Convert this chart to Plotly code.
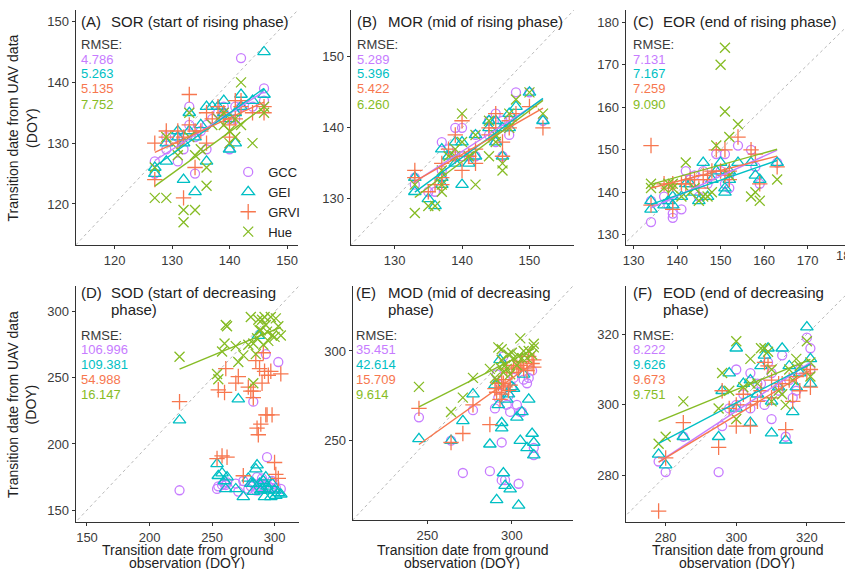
import numpy as np
import plotly.graph_objects as go

W, H = 845, 569

series = ["GCC", "GEI", "GRVI", "Hue"]
colors = {"GCC": "#C77CFF", "GEI": "#00BFC4", "GRVI": "#F7774F", "Hue": "#86BC25"}
symbols = {"GCC": "circle-open", "GEI": "triangle-up-open",
           "GRVI": "cross-thin-open", "Hue": "x-thin-open"}
msize = {"GCC": 9, "GEI": 11, "GRVI": 11, "Hue": 10}

# ---------------- data (DOY) ----------------
# (A) SOR
A_x = [127,127,129,129,131,131,132,132,133,133,134,134,135,136,136,137,138,139,139,140,140,141,141,142,142,144,146,146]
A_GCC = [125,127,129,131,127,131,131,129,136,133,125,131,132,129,133,134,135,135,136,129,134,134,136,144,136,136,139,137]
A_GEI = [125,126,127,130,131,132,124,130,135,132,122,131,133,127,136,136,136,137,135,129,134,130,135,138,136,137,145,138]
A_GRVI = [124,130,132,131,132,130,121,131,138,133,126,132,132,130,135,134,136,135,134,131,133,134,137,137,136,135,136,135]
A_Hue = [121,126,121,131,128,129,119,117,135,131,119,128,129,123,126,133,134,133,135,132,130,134,131,140,133,130,135,136]
A_rmse = ["4.786", "5.263", "5.135", "7.752"]

# (B) MOR
B_x = [133,133,135,136,137,137,137,138,139,139,140,140,141,142,142,144,144,145,145,146,146,147,147,148,150,152]
B_GCC = [132,133,131,131,138,134,133,137,140,136,140,136,136,139,136,141,139,142,138,136,141,139,141,145,145,141]
B_GEI = [131,133,130,129,137,133,132,136,138,135,132,138,135,139,136,141,140,141,138,136,140,142,140,143,145,141]
B_GRVI = [134,133,131,132,135,133,132,137,139,136,134,141,136,135,137,140,139,142,140,138,136,141,140,142,143,140]
B_Hue = [128,132,129,129,134,132,131,136,137,136,142,138,136,132,139,136,141,138,139,134,135,140,142,144,145,142]
B_rmse = ["5.289", "5.396", "5.422", "6.260"]

# (C) EOR
C_x = [134,134,137,138,139,139,141,142,143,144,145,146,147,148,149,150,151,151,152,152,154,157,158,159,163]
C_GCC = [133,138,139,137,134,135,136,145,143,144,139,145,142,144,149,145,142,149,141,144,151,150,146,142,147]
C_GEI = [138,136,137,138,137,139,139,142,142,140,138,147,139,143,145,147,141,140,143,145,147,147,144,143,147]
C_GRVI = [151,137,142,141,136,142,142,142,143,143,141,144,143,145,150,145,150,144,143,145,153,150,149,142,146]
C_Hue = [141,142,141,142,142,141,139,147,140,141,138,139,139,140,151,170,174,159,153,144,156,139,140,138,143]
C_rmse = ["7.131", "7.167", "7.259", "9.090"]

# (D) SOD
D_x = [224,254,255,258,260,261,262,269,271,275,279,281,283,283,285,286,287,288,289,290,291,292,293,294,295,297,298,300,301,303,305]
D_GCC = [165,166,168,169,170,169,171,170,164,172,166,168,232,170,165,175,165,170,168,174,170,169,268,190,168,167,172,170,167,262,166]
D_GEI = [218,185,176,178,172,166,175,166,234,160,174,170,164,170,181,184,282,170,165,166,172,160,175,168,165,160,170,165,161,163,162]
D_GRVI = [232,189,241,191,239,257,190,246,251,176,243,240,240,235,263,212,207,257,215,246,269,255,222,222,252,255,222,186,177,174,253]
D_Hue = [266,253,249,270,276,290,289,274,262,267,275,296,276,246,268,280,294,286,286,294,275,296,290,285,278,296,282,281,295,289,282]
D_rmse = ["106.996", "109.381", "54.988", "16.147"]

# (E) MOD
E_x = [245,264,271,277,287,290,291,292,293,294,294,295,296,297,298,299,300,301,303,304,305,306,307,309,310,312,313,313]
E_GCC = [263,250,232,267,233,268,287,274,281,249,228,297,228,270,275,266,280,285,270,226,266,266,284,282,285,289,246,242]
E_GEI = [251,250,261,276,248,281,217,270,295,260,257,232,225,273,276,223,280,279,263,214,250,266,287,246,273,254,249,242]
E_GRVI = [268,249,254,270,259,279,277,282,273,276,284,282,280,290,278,281,288,292,291,290,292,294,290,289,297,293,295,291]
E_Hue = [280,266,274,285,290,285,284,302,291,301,295,288,292,290,298,287,299,296,292,297,307,296,300,296,300,298,302,304]
E_rmse = ["35.451", "42.614", "15.709", "9.614"]

# (F) EOD
F_x = [278,280,285,295,296,298,300,300,302,304,304,306,307,308,309,310,310,312,313,314,315,316,317,318,320,321,321]
F_GCC = [284,281,291,281,294,299,310,300,303,309,299,306,306,300,312,296,309,304,314,291,307,302,304,310,319,310,316]
F_GEI = [286,283,291,291,304,309,316,299,306,295,307,303,311,314,316,292,301,305,316,290,311,298,305,309,322,313,306]
F_GRVI = [270,285,295,288,304,299,294,300,303,294,300,301,304,312,311,302,307,306,306,293,307,301,308,304,309,305,310]
F_Hue = [289,291,301,299,309,304,318,296,305,313,306,306,316,316,315,301,310,304,303,300,310,307,313,311,318,312,308]
F_rmse = ["8.222", "9.626", "9.673", "9.751"]

titles1 = ["SOR (start of rising phase)", "MOR (mid of rising phase)",
           "EOR (end of rising phase)", "SOD (start of decreasing",
           "MOD (mid of decreasing", "EOD (end of decreasing"]
titles2 = ["", "", "", "phase)", "phase)", "phase)"]
letters = ["(A)", "(B)", "(C)", "(D)", "(E)", "(F)"]

# ---------------- panel layout ----------------
panels = [
    dict(x=A_x, y=dict(GCC=A_GCC, GEI=A_GEI, GRVI=A_GRVI, Hue=A_Hue), rmse=A_rmse,
         fit=series, dx=(73, 296), dy=(10, 245), xr=(113.25, 151.9), yr=(113.25, 151.9),
         ticks=[120, 130, 140, 150], tx=(76, 106)),
    dict(x=B_x, y=dict(GCC=B_GCC, GEI=B_GEI, GRVI=B_GRVI, Hue=B_Hue), rmse=B_rmse,
         fit=series, dx=(349, 573), dy=(10, 245), xr=(123.5, 156.6), yr=(123.5, 156.6),
         ticks=[130, 140, 150], tx=(353, 384)),
    dict(x=C_x, y=dict(GCC=C_GCC, GEI=C_GEI, GRVI=C_GRVI, Hue=C_Hue), rmse=C_rmse,
         fit=series, dx=(625, 845), dy=(10, 245), xr=(128.2, 178.6), yr=(127.6, 182.9),
         ticks=[130, 140, 150, 160, 170, 180], tx=(630, 660)),
    dict(x=D_x, y=dict(GCC=D_GCC, GEI=D_GEI, GRVI=D_GRVI, Hue=D_Hue), rmse=D_rmse,
         fit=["Hue"], dx=(73, 297), dy=(286, 522), xr=(141.0, 319.5), yr=(141.0, 319.5),
         ticks=[150, 200, 250, 300], tx=(76, 106)),
    dict(x=E_x, y=dict(GCC=E_GCC, GEI=E_GEI, GRVI=E_GRVI, Hue=E_Hue), rmse=E_rmse,
         fit=["GRVI", "Hue"], dx=(351, 572), dy=(286, 520), xr=(205.8, 336.2), yr=(205.8, 336.2),
         ticks=[250, 300], tx=(352, 384)),
    dict(x=F_x, y=dict(GCC=F_GCC, GEI=F_GEI, GRVI=F_GRVI, Hue=F_Hue), rmse=F_rmse,
         fit=series, dx=(625, 845), dy=(286, 522), xr=(268.7, 330.8), yr=(266.9, 333.6),
         ticks=[280, 300, 320], tx=(630, 660)),
]


def px(v):
    return v / W


def py(v):
    return 1 - v / H


FONT = "Liberation Sans, Arial, sans-serif"
TXT = "#222222"
AX = "#333333"
TICK = "#3a3a3a"

fig = go.Figure()
annotations = []
layout_axes = {}


def label(x, y, text, size, color, **kw):
    d = dict(x=px(x), y=py(y), xref="paper", yref="paper", text=text, showarrow=False,
             xanchor="left", yanchor="middle", font=dict(family=FONT, size=size, color=color))
    d.update(kw)
    annotations.append(d)


for i, P in enumerate(panels, start=1):
    suf = "" if i == 1 else str(i)
    xa, ya = "x" + suf, "y" + suf
    lo = min(P["xr"][0], P["yr"][0]) - 5
    hi = max(P["xr"][1], P["yr"][1]) + 5
    fig.add_trace(go.Scatter(x=[lo, hi], y=[lo, hi], mode="lines",
                             line=dict(color="#b8b8b8", width=1, dash="dot"),
                             xaxis=xa, yaxis=ya, showlegend=False, hoverinfo="skip"))
    xs = np.array(P["x"], dtype=float)
    for s in series:
        ys = np.array(P["y"][s], dtype=float)
        assert len(ys) == len(xs)
        fig.add_trace(go.Scatter(
            x=xs, y=ys, mode="markers", name=s, showlegend=(i == 1),
            marker=dict(symbol=symbols[s], size=msize[s], color=colors[s],
                        line=dict(color=colors[s], width=1.3)),
            xaxis=xa, yaxis=ya))
    for s in series:
        if s not in P["fit"]:
            continue
        ys = np.array(P["y"][s], dtype=float)
        k, b = np.polyfit(xs, ys, 1)
        xl = np.array([xs.min(), xs.max()])
        fig.add_trace(go.Scatter(x=xl, y=k * xl + b, mode="lines",
                                 line=dict(color=colors[s], width=1.4),
                                 xaxis=xa, yaxis=ya, showlegend=False, hoverinfo="skip"))

    common = dict(showgrid=False, zeroline=False, showline=True, linecolor=AX, linewidth=1.4,
                  ticks="outside", ticklen=3, tickwidth=1, tickcolor=AX,
                  tickvals=P["ticks"], tickfont=dict(family=FONT, size=13, color=TICK))
    layout_axes["xaxis" + suf] = dict(domain=[px(P["dx"][0]), px(P["dx"][1])],
                                      range=list(P["xr"]), anchor=ya, **common)
    layout_axes["yaxis" + suf] = dict(domain=[py(P["dy"][1]), py(P["dy"][0])],
                                      range=list(P["yr"]), anchor=xa, **common)

    top = P["dy"][0]
    ty = top + 12 if i <= 3 else top + 7
    label(P["tx"][0], ty, letters[i - 1], 15, TXT)
    label(P["tx"][1], ty, titles1[i - 1], 15, TXT)
    if titles2[i - 1]:
        label(P["tx"][1], ty + 16, titles2[i - 1], 15, TXT)
    # RMSE block
    r0 = top + 35 if i <= 3 else top + 49
    label(P["tx"][0], r0, "RMSE:", 13, TICK)
    for j, s in enumerate(series):
        label(P["tx"][0], r0 + 14 + 15 * j, P["rmse"][j], 13, colors[s])

# partially visible "180" tick label on panel C
label(847, 256, "180", 13, TICK, xanchor="center")

# axis titles
ytitle = "Transition date from UAV data<br>(DOY)"
for yc in [(10 + 245) / 2, (286 + 522) / 2]:
    label(19, yc, ytitle, 14, TXT, textangle=-90, xanchor="center")
for xc in [185, 461, 737]:
    label(xc, 549.5, "Transition date from ground", 14, TXT, xanchor="center")
    label(xc, 563, "observation (DOY)", 14, TXT, xanchor="center")

fig.update_layout(
    width=W, height=H, margin=dict(l=0, r=0, t=0, b=0),
    paper_bgcolor="white", plot_bgcolor="white",
    font=dict(family=FONT, color=TXT),
    annotations=annotations,
    legend=dict(x=px(226), y=py(157), xanchor="left", yanchor="top", tracegroupgap=0,
                bgcolor="rgba(0,0,0,0)", font=dict(family=FONT, size=13, color=TXT),
                itemwidth=30),
    **layout_axes,
)

fig.write_html("out.html", config={"displayModeBar": False},
               post_script="document.body.style.margin='0px';document.body.style.overflow='hidden';")
